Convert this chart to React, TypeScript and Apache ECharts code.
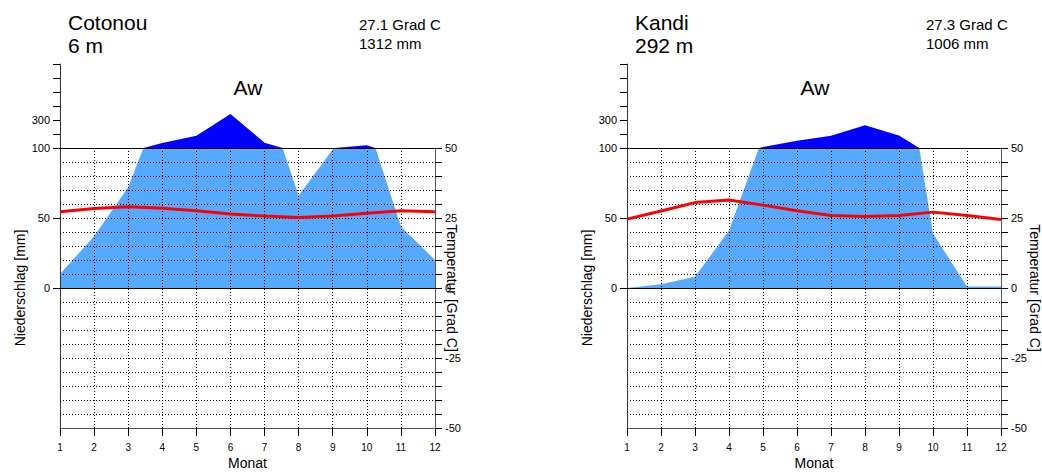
import React, { useEffect, useRef } from "react";
import * as echarts from "echarts";

// ---- data ----
const months = [1, 2, 3, 4, 5, 6, 7, 8, 9, 10, 11, 12];

const cotonouPrecip = [10, 37, 72, 135, 188, 343, 138, 66, 99, 119, 44, 20];
const cotonouTemp = [27.2, 28.4, 29.0, 28.5, 27.6, 26.4, 25.7, 25.2, 25.7, 26.7, 27.6, 27.2];

const kandiPrecip = [0, 2.6, 8, 41, 108, 152, 188, 262, 190, 39, 1, 1];
const kandiTemp = [24.6, 27.5, 30.5, 31.4, 29.6, 27.6, 25.9, 25.5, 25.9, 27.1, 25.9, 24.5];

const stations = [
  { name: "Cotonou", height: "6 m", temp: "27.1 Grad C", precip: "1312 mm", climate: "Aw", p: cotonouPrecip, t: cotonouTemp },
  { name: "Kandi", height: "292 m", temp: "27.3 Grad C", precip: "1006 mm", climate: "Aw", p: kandiPrecip, t: kandiTemp },
];

const precipLowLabels = [0, 50, 100];
const precipHighTicks = [200, 300, 400, 500, 600, 700];
const precipHighLabels = [300];
const tempLabels = [-50, -25, 0, 25, 50];

// ---- layout ----
const FONT = "'Liberation Sans', Arial, Helvetica, sans-serif";
const panelLeft = [60, 627];
const panelWidth = [375, 374];
const rightNameGap = [10, 27];
const upperTop = 64;
const upperH = 84;
const lowerTop = 148;
const lowerH = 280;

function buildOption() {
  const grid: any[] = [];
  const xAxis: any[] = [];
  const yAxis: any[] = [];
  const series: any[] = [];
  const graphic: any[] = [];

  stations.forEach((st, i) => {
    const left = panelLeft[i];
    const width = panelWidth[i];
    const gU = grid.length;
    grid.push({ left, top: upperTop, width, height: upperH, containLabel: false, outerBoundsMode: "none" });
    const gL = grid.length;
    grid.push({ left, top: lowerTop, width, height: lowerH, containLabel: false, outerBoundsMode: "none" });

    const xU = xAxis.length;
    xAxis.push({ gridIndex: gU, type: "value", min: 1, max: 12, interval: 1, show: false });
    const xL = xAxis.length;
    xAxis.push({
      gridIndex: gL,
      type: "value",
      min: 1,
      max: 12,
      interval: 1,
      position: "bottom",
      z: 3,
      axisLine: { show: true, onZero: false, lineStyle: { color: "#555", width: 1 } },
      axisTick: { show: true, length: 8, lineStyle: { color: "#000" } },
      axisLabel: { fontSize: 10, color: "#000", margin: 14, fontFamily: FONT },
      splitLine: { show: true, lineStyle: { color: "#000", type: [1, 2], width: 1 } },
      name: "Monat",
      nameLocation: "middle",
      nameGap: 28,
      nameMoveOverlap: false,
      nameTextStyle: { fontSize: 14, color: "#000", fontFamily: FONT },
    });

    const yU = yAxis.length;
    yAxis.push({
      gridIndex: gU,
      type: "value",
      min: 100,
      max: 700,
      interval: 100,
      position: "left",
      z: 3,
      axisLine: { show: true, onZero: false, lineStyle: { color: "#333" } },
      axisTick: { show: true, length: 7, customValues: precipHighTicks, lineStyle: { color: "#000" } },
      axisLabel: { customValues: precipHighLabels, fontSize: 11, color: "#000", margin: 10, fontFamily: FONT },
      splitLine: { show: false },
    });
    const yL = yAxis.length;
    yAxis.push({
      gridIndex: gL,
      type: "value",
      min: -100,
      max: 100,
      interval: 10,
      position: "left",
      z: 3,
      axisLine: { show: true, onZero: false, lineStyle: { color: "#333" } },
      axisTick: { show: true, length: 7, customValues: precipLowLabels, lineStyle: { color: "#000" } },
      axisLabel: { customValues: precipLowLabels, fontSize: 11, color: "#000", margin: 10, fontFamily: FONT },
      splitLine: { show: false },
      name: "Niederschlag [mm]",
      nameLocation: "middle",
      nameGap: 33,
      nameRotate: 90,
      nameMoveOverlap: false,
      nameTextStyle: { fontSize: 14, color: "#000", fontFamily: FONT },
    });
    const yT = yAxis.length;
    yAxis.push({
      gridIndex: gL,
      type: "value",
      min: -50,
      max: 50,
      interval: 5,
      position: "right",
      z: 3,
      axisLine: { show: true, onZero: false, lineStyle: { color: "#555" } },
      axisTick: { show: true, length: 7, lineStyle: { color: "#000" } },
      axisLabel: { customValues: tempLabels, fontSize: 11, color: "#000", margin: 10, fontFamily: FONT },
      splitLine: { show: true, lineStyle: { color: "#000", type: [1, 2], width: 1 } },
      name: "Temperatur [Grad C]",
      nameLocation: "middle",
      nameGap: rightNameGap[i],
      nameRotate: -90,
      nameMoveOverlap: false,
      nameTextStyle: { fontSize: 14, color: "#000", fontFamily: FONT },
    });

    const pData = months.map((m, k) => [m, st.p[k]]);
    const tData = months.map((m, k) => [m, st.t[k]]);

    series.push({
      type: "line",
      xAxisIndex: xL,
      yAxisIndex: yL,
      data: pData,
      symbol: "none",
      clip: true,
      z: 1,
      lineStyle: { width: 0, color: "#55aaff" },
      areaStyle: { color: "#55aaff", opacity: 1, origin: "auto" },
      silent: true,
    });
    series.push({
      type: "line",
      xAxisIndex: xU,
      yAxisIndex: yU,
      data: pData,
      symbol: "none",
      clip: true,
      z: 1,
      lineStyle: { width: 0, color: "#0000ff" },
      areaStyle: { color: "#0000ff", opacity: 1, origin: "start" },
      silent: true,
    });
    series.push({
      type: "line",
      xAxisIndex: xL,
      yAxisIndex: yT,
      data: tData,
      symbol: "none",
      z: 10,
      lineStyle: { width: 3, color: "#ff0000" },
      silent: true,
      markLine: {
        silent: true,
        symbol: "none",
        label: { show: false },
        lineStyle: { color: "#000", type: "solid", width: 1 },
        data: [{ yAxis: 0 }, { yAxis: 50 }],
      },
    });

    const off = left - 60;
    graphic.push(
      { type: "text", x: 68 + off, y: 22, style: { text: st.name, fontSize: 21, fontFamily: FONT, fill: "#000", verticalAlign: "middle" } },
      { type: "text", x: 68 + off, y: 45, style: { text: st.height, fontSize: 21, fontFamily: FONT, fill: "#000", verticalAlign: "middle" } },
      { type: "text", x: 359 + off, y: 24, style: { text: st.temp, fontSize: 15, fontFamily: FONT, fill: "#000", verticalAlign: "middle" } },
      { type: "text", x: 359 + off, y: 43, style: { text: st.precip, fontSize: 15, fontFamily: FONT, fill: "#000", verticalAlign: "middle" } },
      { type: "text", x: 248 + off, y: 87, style: { text: st.climate, fontSize: 21, fontFamily: FONT, fill: "#000", align: "center", verticalAlign: "middle" } }
    );
  });

  return {
    animation: false,
    backgroundColor: "#fff",
    textStyle: { fontFamily: FONT },
    grid,
    xAxis,
    yAxis,
    series,
    graphic,
  };
}

export default function App() {
  const ref = useRef<HTMLDivElement>(null);
  useEffect(() => {
    if (!ref.current) return;
    const chart = echarts.init(ref.current, undefined, { renderer: "svg" });
    chart.setOption(buildOption() as any);
    return () => chart.dispose();
  }, []);
  return (
    <div
      ref={ref}
      style={{ position: "fixed", left: 0, top: 0, width: 1042, height: 472, background: "#fff" }}
    />
  );
}
